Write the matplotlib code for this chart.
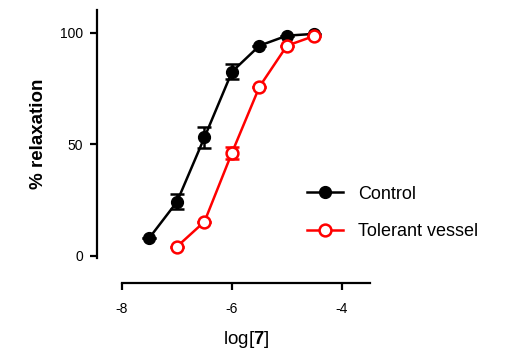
import numpy as np
import matplotlib.pyplot as plt
from matplotlib.lines import Line2D

plt.rcParams['font.family'] = ['Liberation Sans', 'DejaVu Sans']
plt.rcParams['mathtext.fontset'] = 'custom'
plt.rcParams['mathtext.rm'] = 'Liberation Sans'
plt.rcParams['mathtext.bf'] = 'Liberation Sans:bold'

# data
log_conc = [-7.5, -7.0, -6.5, -6.0, -5.5, -5.0, -4.5]
control = [8.2, 24.3, 53.2, 82.6, 94.3, 98.8, 99.6]
control_err = [0, 3.3, 4.7, 3.4, 0, 0, 0]
log_conc_tol = [-7.0, -6.5, -6.0, -5.5, -5.0, -4.5]
tolerant = [4.2, 15.4, 46.3, 75.9, 94.3, 98.7]
tolerant_err = [0, 0, 2.6, 0, 0, 0]

fig = plt.figure(figsize=(5.07, 3.51), dpi=100)
ax = fig.add_axes([122/507, 1 - 258/351, 248/507, 248/351])

ax.errorbar(log_conc, control, yerr=control_err, color='black', lw=1.8,
            marker='o', ms=8.5, mfc='black', mec='black', capsize=5,
            capthick=1.8, elinewidth=1.8, zorder=3)
ax.errorbar(log_conc_tol, tolerant, yerr=tolerant_err, color='red', lw=1.8,
            marker='o', ms=8.5, mfc='white', mec='red', mew=1.8, capsize=5,
            capthick=1.8, elinewidth=1.8, zorder=4)

ax.set_xlim(-8, -3.49)
ax.set_ylim(-0.9, 110.3)
ax.set_xticks([-8, -6, -4])
ax.set_yticks([0, 50, 100])
ax.set_xticklabels(['-8', '-6', '-4'], fontsize=11, fontweight='bold')
ax.set_yticklabels(['0', '50', '100'], fontsize=11, fontweight='bold')
ax.tick_params(width=1.6, length=5, direction='out')
ax.tick_params(axis='x', pad=9)
ax.tick_params(axis='y', pad=5)

for s in ['top', 'right']:
    ax.spines[s].set_visible(False)
ax.spines['left'].set_position(('outward', 18))
ax.spines['bottom'].set_position(('outward', 18))
ax.spines['left'].set_linewidth(1.6)
ax.spines['bottom'].set_linewidth(1.6)

ax.set_ylabel('% relaxation', fontweight='bold', fontsize=13.5, labelpad=9)
ax.set_xlabel(r'log[$\mathbf{7}$]', fontsize=13.5, labelpad=9)

handles = [
    Line2D([], [], color='black', lw=1.8, marker='o', ms=8.5, mfc='black'),
    Line2D([], [], color='red', lw=1.8, marker='o', ms=8.5, mfc='white', mew=1.8),
]
fig.legend(handles, ['Control', 'Tolerant vessel'], loc='center left',
           bbox_to_anchor=(291/507, 1 - 213/351), frameon=False, fontsize=13,
           handlelength=2.0, labelspacing=1.15, handletextpad=0.8)

fig.savefig('out.png', dpi=100)
